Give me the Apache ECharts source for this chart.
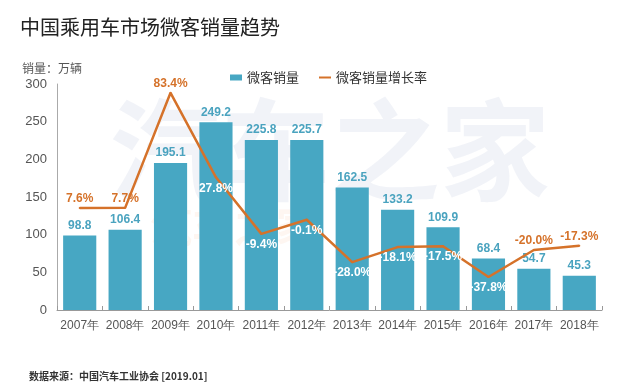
<!DOCTYPE html>
<html>
<head>
<meta charset="utf-8">
<script src="https://cdn.jsdelivr.net/npm/echarts@6/dist/echarts.min.js"></script>
<style>html,body{margin:0;padding:0;background:#fff;}#c{width:620px;height:387px;}</style>
</head>
<body>
<div id="c"></div>
<script>
var categories = ['2007年','2008年','2009年','2010年','2011年','2012年','2013年','2014年','2015年','2016年','2017年','2018年'];
var sales = [98.8,106.4,195.1,249.2,225.8,225.7,162.5,133.2,109.9,68.4,54.7,45.3];
var growth = [7.6,7.7,83.4,27.8,-9.4,-0.1,-28.0,-18.1,-17.5,-37.8,-20.0,-17.3];
var yTicks = [0,50,100,150,200,250,300];

var above = {0:1,1:1,2:1,10:1,11:1};
var growthData = growth.map(function(v,i){
  var lbl = above[i] ? {show:true,position:'top',color:'#d5722a',distance:2} : {show:true,position:'bottom',color:'#ffffff',distance:4};
  return {value:v,label:lbl};
});

var chart = echarts.init(document.getElementById('c'));
chart.setOption({
  animation:false,
  title:[
    {text:'中国乘用车市场微客销量趋势',left:15,top:12,textStyle:{fontSize:20,fontWeight:'normal',color:'#222',fontFamily:'Noto Sans CJK SC'}},
    {text:'销量：万辆',left:17,top:57,textStyle:{fontSize:12,fontWeight:'normal',color:'#555',fontFamily:'Noto Sans CJK SC'}},
    {text:'数据来源：中国汽车工业协会 [2019.01]',left:24,top:366,textStyle:{fontSize:10,fontWeight:'bold',color:'#333',fontFamily:'Noto Sans CJK SC'}}
  ],
  graphic:[
    {type:'text',left:110,top:95,z:-1,style:{text:'汽车之家',font:'bold 110px "Noto Sans CJK SC"',fill:'rgba(215,222,235,0.35)'}},
    {type:'text',left:150,top:205,z:-1,style:{text:'汽车之家',font:'bold 42px "Noto Sans CJK SC"',fill:'rgba(250,220,200,0.25)'}}
  ],
  legend:{
    left:225,top:66,itemWidth:12,itemHeight:6,itemGap:20,
    textStyle:{fontSize:13,color:'#333',fontFamily:'Noto Sans CJK SC'},
    data:[{name:'微客销量',icon:'rect'},{name:'微客销量增长率',icon:'path://M0,0 L12,0 L12,2 L0,2 Z',itemStyle:{color:'#d5722a',opacity:1}}]
  },
  grid:{left:57,right:18,top:84,bottom:77},
  xAxis:{
    type:'category',data:categories,
    axisLine:{lineStyle:{color:'#999',width:1}},
    axisTick:{show:true,inside:true,length:4,lineStyle:{color:'#999'}},
    axisLabel:{interval:0,fontSize:12,color:'#555',margin:10,fontFamily:'Liberation Sans'}
  },
  yAxis:[
    {type:'value',min:yTicks[0],max:yTicks[yTicks.length-1],interval:50,
     axisLine:{show:true,lineStyle:{color:'#aaa'}},axisTick:{show:false},splitLine:{show:false},
     axisLabel:{fontSize:13,color:'#555',margin:10,fontFamily:'Liberation Sans'}},
    {type:'value',min:-59.5,max:89.2,show:false,splitLine:{show:false}}
  ],
  series:[
    {name:'微客销量',type:'bar',data:sales,barCategoryGap:'27%',
     itemStyle:{color:'#47a7c3'},
     label:{show:true,position:'top',distance:4,color:'#4aa3bf',fontSize:12,fontWeight:'bold',fontFamily:'Liberation Sans'}},
    {name:'微客销量增长率',type:'line',yAxisIndex:1,data:growthData,z:3,
     symbol:'circle',symbolSize:2,showSymbol:true,
     lineStyle:{color:'#d5722a',width:2.5},itemStyle:{color:'#d5722a'},
     label:{show:true,fontSize:12,fontWeight:'bold',fontFamily:'Liberation Sans',
       formatter:function(p){return p.value.toFixed(1)+'%';}}}
  ]
});
</script>
</body>
</html>
